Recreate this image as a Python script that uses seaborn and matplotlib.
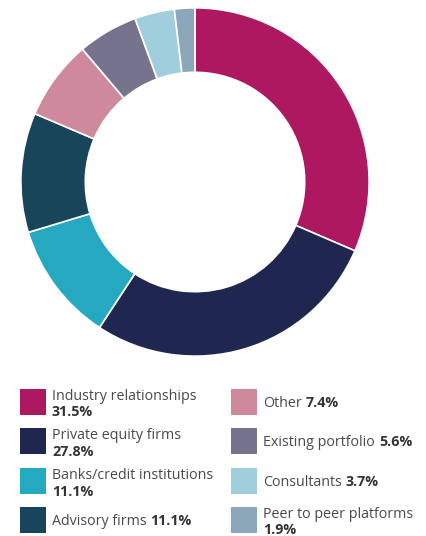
import matplotlib
matplotlib.use("Agg")
import matplotlib.pyplot as plt
import seaborn as sns
from matplotlib.patches import Rectangle

labels = ['Industry relationships', 'Private equity firms', 'Banks/credit institutions',
          'Advisory firms', 'Other', 'Existing portfolio', 'Consultants', 'Peer to peer platforms']
values = [31.5, 27.8, 11.1, 11.1, 7.4, 5.6, 3.7, 1.9]
colors = ['#ad1860', '#1f2650', '#25a9c1', '#18455a', '#ce8a9c', '#76738c', '#a0cedd', '#8da7ba']
# whether the bold percentage sits on its own second line
two_line = [True, True, True, False, False, False, False, True]

W, H = 426, 536
sns.set_theme(style="white")
plt.rcParams['font.family'] = ['Open Sans', 'DejaVu Sans']

fig = plt.figure(figsize=(W / 100, H / 100), dpi=100)

def fx(px):
    return px / W

def fy(py):
    return 1 - py / H

# donut
cx, cy, r = 195, 182, 175
ax = fig.add_axes([fx(cx - r), fy(cy + r), 2 * r / W, 2 * r / H])
ax.pie(values, colors=colors, startangle=90, counterclock=False,
       wedgeprops=dict(width=0.37, edgecolor='white', linewidth=1.2))
ax.set_xlim(-1.005, 1.005)
ax.set_ylim(-1.005, 1.005)
ax.set_aspect('equal')
ax.axis('off')

# legend
renderer = fig.canvas.get_renderer()
row_tops = [389, 428, 468, 507]
col_x = [20, 231]
sq = 26
txt_color = '#4a4a4a'
fs = 10.3
for i, (lab, val, col) in enumerate(zip(labels, values, colors)):
    c, rI = divmod(i, 4)
    x0 = col_x[c]
    top = row_tops[rI]
    fig.patches.append(Rectangle((fx(x0), fy(top + sq)), sq / W, sq / H,
                                 transform=fig.transFigure, facecolor=col, edgecolor='none'))
    tx = x0 + sq + 6
    pct = f'{val}%'
    if two_line[i]:
        fig.text(fx(tx), fy(top + 11), lab, fontsize=fs, color=txt_color, va='baseline')
        fig.text(fx(tx), fy(top + 27.5), pct, fontsize=fs, color='#333333',
                 fontweight='bold', va='baseline')
    else:
        t = fig.text(fx(tx), fy(top + 18), lab, fontsize=fs, color=txt_color, va='baseline')
        bb = t.get_window_extent(renderer)
        fig.text((bb.x1 + 4) / fig.bbox.width, fy(top + 18), pct, fontsize=fs, color='#333333',
                 fontweight='bold', va='baseline')

fig.savefig('out.png', dpi=100, facecolor='white')
